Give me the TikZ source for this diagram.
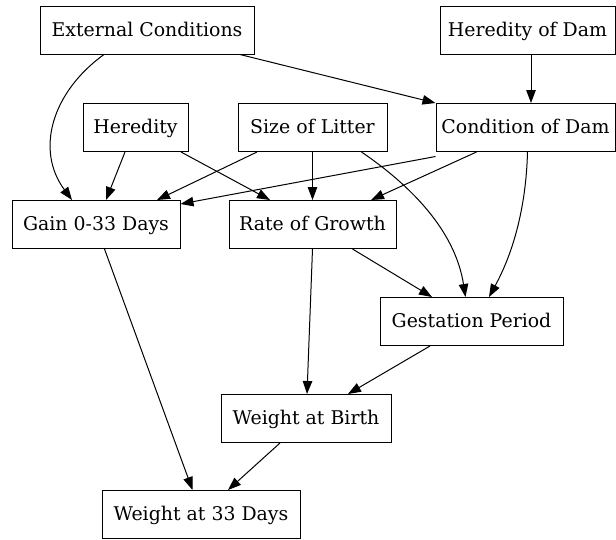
\documentclass[tikz,border=0pt]{standalone}
\usepackage{fontspec}
\setmainfont{DejaVu Serif}
\usetikzlibrary{arrows.meta}
\begin{document}
\begin{tikzpicture}[x=1pt,y=-1pt,
  box/.style={draw,line width=1pt,inner sep=0pt,minimum height=48pt,text height=13pt,text depth=1pt,font=\fontsize{18.9}{22}\selectfont},
  edge/.style={line width=1pt,-{Triangle[length=13pt,width=9.5pt]}}]
\useasboundingbox (0,0) rectangle (616,539);
\node[box,minimum width=214pt] (ext) at (147,30) {External Conditions};
\node[box,minimum width=175pt] (hdam) at (527.5,30) {Heredity of Dam};
\node[box,minimum width=105pt] (her) at (135.5,127.5) {Heredity};
\node[box,minimum width=149pt] (size) at (312.5,127.5) {Size of Litter};
\node[box,minimum width=179pt] (cdam) at (525.5,127.5) {Condition of Dam};
\node[box,minimum width=168pt] (gain) at (96,224.5) {Gain 0-33 Days};
\node[box,minimum width=167pt] (rate) at (312.5,224.5) {Rate of Growth};
\node[box,minimum width=183pt] (gest) at (471.5,321.5) {Gestation Period};
\node[box,minimum width=170pt] (wb) at (306,418.5) {Weight at Birth};
\node[box,minimum width=198pt] (w33) at (201,514.5) {Weight at 33 Days};

\draw[edge] ([xshift=-43pt]ext.south) .. controls (52,92) and (35,150) .. ([xshift=-24pt]gain.north);
\draw[edge] ([xshift=93pt]ext.south) -- (cdam.north west);
\draw[edge] ([xshift=3.5pt]hdam.south) -- ([xshift=5.5pt]cdam.north);
\draw[edge] ([xshift=-10.5pt]her.south) -- ([xshift=10pt]gain.north);
\draw[edge] ([xshift=45.5pt]her.south) -- ([xshift=-42.5pt]rate.north);
\draw[edge] ([xshift=-55.5pt]size.south) -- ([xshift=61pt]gain.north);
\draw[edge] (size.south) -- (rate.north);
\draw[edge] ([xshift=49pt]size.south) .. controls (410,185) and (455,230) .. ([xshift=-6pt]gest.north);
\draw[edge] ([yshift=-4.5pt]cdam.south west) -- ([yshift=-4pt]gain.north east);
\draw[edge] ([xshift=-49pt]cdam.south) -- ([xshift=58.5pt]rate.north);
\draw[edge] ([xshift=2pt]cdam.south) .. controls (526,210) and (512,255) .. ([xshift=17.5pt]gest.north);
\draw[edge] ([xshift=40pt]rate.south) -- ([xshift=-39.5pt]gest.north);
\draw[edge] (rate.south) -- ([xshift=1pt]wb.north);
\draw[edge] ([xshift=8.5pt]gain.south) -- ([xshift=-8.5pt]w33.north);
\draw[edge] ([xshift=-41.5pt]gest.south) -- ([xshift=42pt]wb.north);
\draw[edge] ([xshift=-26pt]wb.south) -- ([xshift=27pt]w33.north);
\end{tikzpicture}
\end{document}
